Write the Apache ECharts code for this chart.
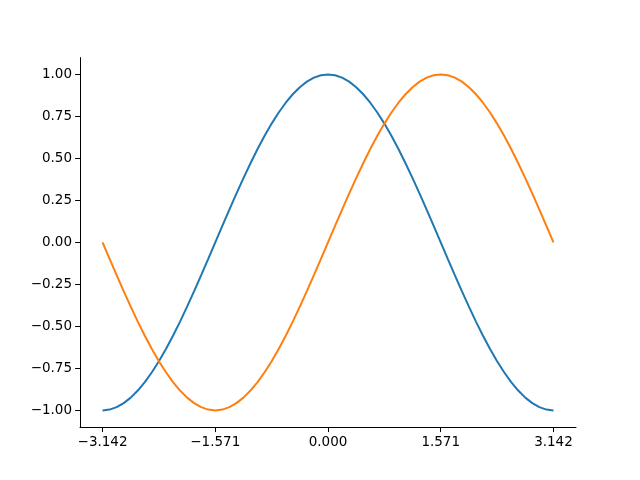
<!DOCTYPE html>
<html><head><meta charset="utf-8">
<script src="https://cdn.jsdelivr.net/npm/echarts@6/dist/echarts.min.js"></script>
<style>html,body{margin:0;padding:0;background:#fff}#c{width:640px;height:480px}</style>
</head><body><div id="c"></div>
<script>
const xs = [-3.1416,-3.0434,-2.9452,-2.8471,-2.7489,-2.6507,-2.5525,-2.4544,-2.3562,-2.2580,-2.1598,-2.0617,-1.9635,-1.8653,-1.7671,-1.6690,-1.5708,-1.4726,-1.3744,-1.2763,-1.1781,-1.0799,-0.9817,-0.8836,-0.7854,-0.6872,-0.5890,-0.4909,-0.3927,-0.2945,-0.1963,-0.0982,0,0.0982,0.1963,0.2945,0.3927,0.4909,0.5890,0.6872,0.7854,0.8836,0.9817,1.0799,1.1781,1.2763,1.3744,1.4726,1.5708,1.6690,1.7671,1.8653,1.9635,2.0617,2.1598,2.2580,2.3562,2.4544,2.5525,2.6507,2.7489,2.8471,2.9452,3.0434,3.1416];
const cosVals = [-1,-0.9952,-0.9808,-0.9569,-0.9239,-0.8819,-0.8315,-0.7730,-0.7071,-0.6344,-0.5556,-0.4714,-0.3827,-0.2903,-0.1951,-0.0980,0,0.0980,0.1951,0.2903,0.3827,0.4714,0.5556,0.6344,0.7071,0.7730,0.8315,0.8819,0.9239,0.9569,0.9808,0.9952,1,0.9952,0.9808,0.9569,0.9239,0.8819,0.8315,0.7730,0.7071,0.6344,0.5556,0.4714,0.3827,0.2903,0.1951,0.0980,0,-0.0980,-0.1951,-0.2903,-0.3827,-0.4714,-0.5556,-0.6344,-0.7071,-0.7730,-0.8315,-0.8819,-0.9239,-0.9569,-0.9808,-0.9952,-1];
const sinVals = [0,-0.0980,-0.1951,-0.2903,-0.3827,-0.4714,-0.5556,-0.6344,-0.7071,-0.7730,-0.8315,-0.8819,-0.9239,-0.9569,-0.9808,-0.9952,-1,-0.9952,-0.9808,-0.9569,-0.9239,-0.8819,-0.8315,-0.7730,-0.7071,-0.6344,-0.5556,-0.4714,-0.3827,-0.2903,-0.1951,-0.0980,0,0.0980,0.1951,0.2903,0.3827,0.4714,0.5556,0.6344,0.7071,0.7730,0.8315,0.8819,0.9239,0.9569,0.9808,0.9952,1,0.9952,0.9808,0.9569,0.9239,0.8819,0.8315,0.7730,0.7071,0.6344,0.5556,0.4714,0.3827,0.2903,0.1951,0.0980,0];
const xTicks = [-3.1416,-1.5708,0,1.5708,3.1416];
const yTicks = [-1,-0.75,-0.5,-0.25,0,0.25,0.5,0.75,1];

const fmt = (v, d) => { const s = Math.abs(v).toFixed(d); return (v < -1e-9 ? '\u2212' : '') + s; };
const font = {fontFamily: 'DejaVu Sans', fontSize: 13.5, color: '#000'};
const chart = echarts.init(document.getElementById('c'), null, {renderer: 'canvas'});
chart.setOption({
  animation: false,
  grid: {left: 80, right: 64, top: 57.6, bottom: 52.8, containLabel: false},
  xAxis: {
    type: 'value', min: -3.4558, max: 3.4558,
    axisLine: {onZero: false, lineStyle: {color: '#000', width: 1}},
    axisTick: {show: true, length: 4.9, customValues: xTicks, lineStyle: {color: '#000', width: 1}},
    axisLabel: Object.assign({customValues: xTicks, margin: 8, formatter: v => fmt(v, 3)}, font),
    splitLine: {show: false}
  },
  yAxis: {
    type: 'value', min: -1.1, max: 1.1,
    axisLine: {show: true, onZero: false, lineStyle: {color: '#000', width: 1}},
    axisTick: {show: true, length: 4.9, customValues: yTicks, lineStyle: {color: '#000', width: 1}},
    axisLabel: Object.assign({customValues: yTicks, margin: 8, formatter: v => fmt(v, 2)}, font),
    splitLine: {show: false}
  },
  series: [
    {type: 'line', data: xs.map((x, i) => [x, cosVals[i]]), smooth: false, showSymbol: false,
     lineStyle: {color: '#1f77b4', width: 2}},
    {type: 'line', data: xs.map((x, i) => [x, sinVals[i]]), smooth: false, showSymbol: false,
     lineStyle: {color: '#ff7f0e', width: 2}}
  ]
});
</script></body></html>
